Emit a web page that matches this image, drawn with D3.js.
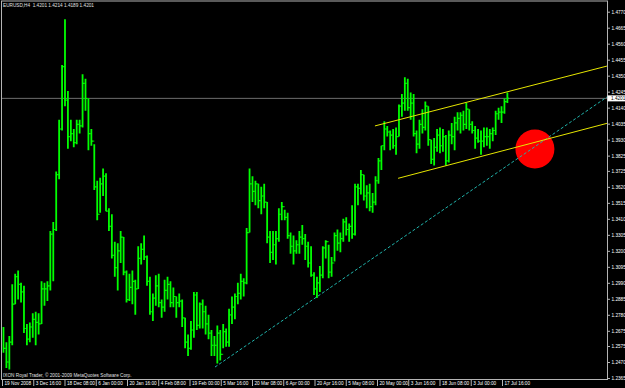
<!DOCTYPE html>
<html><head><meta charset="utf-8">
<script src="https://cdn.jsdelivr.net/npm/d3@7"></script>
<style>html,body{margin:0;padding:0;background:#000;overflow:hidden}</style>
</head><body>
<svg id="c" width="625" height="388"></svg>
<script>
// Daily EURUSD (H4 chart, 6 bars per day) 19 Nov 2008 .. 21 Jul 2009
const highs=[1.2700,1.2600,1.2640,1.2980,1.3050,1.3070,1.2990,1.2970,1.2720,1.2730,1.2790,1.2800,1.2790,1.3000,1.2990,1.3000,1.3330,1.3390,1.3720,1.4060,1.4420,1.4720,1.4250,1.4060,1.4000,1.4060,1.4060,1.4360,1.4330,1.4200,
1.4000,1.3900,1.3660,1.3680,1.3740,1.3710,1.3480,1.3440,1.3260,1.3250,1.3330,1.3290,1.3070,1.3050,1.3070,1.3010,1.3230,1.3250,1.3300,1.3170,1.3030,
1.2920,1.3040,1.3050,1.2880,1.3010,1.3030,1.3000,1.2960,1.2900,1.2920,1.2880,1.2760,1.2650,1.2740,1.2930,1.2930,1.2860,1.2880,1.2840,1.2780,
1.2680,1.2640,1.2710,1.2680,1.2720,1.2690,1.2820,1.2900,1.2920,1.2990,1.3050,1.3020,1.3350,1.3740,1.3690,1.3660,1.3640,1.3620,1.3640,1.3520,1.3330,1.3330,
1.3330,1.3480,1.3520,1.3470,1.3450,1.3320,1.3300,1.3270,1.3330,1.3370,1.3310,1.3260,1.3230,1.3060,1.3030,1.3100,1.3230,1.3270,1.3240,1.3160,1.3320,1.3340,
1.3320,1.3410,1.3420,1.3380,1.3500,1.3640,1.3640,1.3730,1.3700,1.3630,1.3640,1.3580,1.3690,1.3810,1.3890,1.4050,1.4020,1.3990,1.4000,1.4010,1.4160,
1.4230,1.4340,1.4330,1.4240,1.4230,1.3990,1.4060,1.4130,1.4180,1.4150,1.3930,1.3940,1.4000,1.4010,1.4000,1.3960,1.3990,1.4040,1.4080,1.4110,1.4110,1.4120,
1.4170,1.4130,1.4050,1.4020,1.4000,1.3990,1.4010,1.4010,1.4000,1.4010,1.4120,1.4140,1.4150,1.4200,1.4240];
const lows=[1.2530,1.2430,1.2420,1.2580,1.2850,1.2880,1.2860,1.2660,1.2580,1.2600,1.2630,1.2580,1.2650,1.2720,1.2840,1.2870,1.2940,1.3000,1.3330,1.3670,1.3990,1.4150,1.3870,1.3920,1.3880,1.3900,1.3970,1.4010,1.4120,1.3860,
1.3890,1.3600,1.3400,1.3450,1.3560,1.3460,1.3330,1.3150,1.3030,1.2940,1.3120,1.3040,1.2860,1.2870,1.2850,1.2780,1.2950,1.3110,1.3140,1.2970,1.2780,
1.2740,1.2840,1.2830,1.2760,1.2800,1.2880,1.2830,1.2830,1.2760,1.2830,1.2700,1.2560,1.2510,1.2550,1.2630,1.2680,1.2690,1.2690,1.2650,1.2620,
1.2510,1.2510,1.2460,1.2480,1.2560,1.2570,1.2570,1.2720,1.2750,1.2850,1.2880,1.2900,1.2980,1.3320,1.3520,1.3500,1.3480,1.3440,1.3480,1.3250,1.3120,1.3140,
1.3110,1.3260,1.3400,1.3400,1.3280,1.3180,1.3110,1.3180,1.3180,1.3240,1.3140,1.3090,1.3030,1.2910,1.2890,1.2930,1.3020,1.3150,1.3020,1.3030,1.3130,1.3200,
1.3190,1.3260,1.3300,1.3260,1.3280,1.3300,1.3500,1.3570,1.3530,1.3480,1.3460,1.3450,1.3500,1.3640,1.3730,1.3860,1.3950,1.3860,1.3870,1.3830,1.3950,
1.4080,1.4120,1.4120,1.4060,1.3950,1.3840,1.3870,1.3970,1.3990,1.3890,1.3770,1.3760,1.3850,1.3840,1.3850,1.3760,1.3780,1.3900,1.3860,1.3990,1.3970,1.3990,
1.4000,1.3990,1.3970,1.3870,1.3910,1.3830,1.3880,1.3890,1.3870,1.3920,1.3960,1.4060,1.4040,1.4100,1.4170];
const closes=[1.2560,1.2470,1.2600,1.2850,1.3030,1.2980,1.2930,1.2690,1.2620,1.2700,1.2750,1.2730,1.2720,1.2950,1.2950,1.2970,1.3310,1.3340,1.3700,1.4000,1.4410,1.4190,1.3950,1.3970,1.3910,1.4030,1.4020,1.4300,1.4200,1.3970,
1.3920,1.3620,1.3440,1.3640,1.3690,1.3460,1.3360,1.3170,1.3090,1.3200,1.3290,1.3060,1.2880,1.2960,1.3000,1.2950,1.3150,1.3210,1.3160,1.3000,1.2800,
1.2890,1.2970,1.2860,1.2830,1.2940,1.2980,1.2860,1.2900,1.2860,1.2870,1.2760,1.2600,1.2560,1.2680,1.2910,1.2710,1.2850,1.2800,1.2720,1.2660,
1.2580,1.2580,1.2660,1.2520,1.2670,1.2600,1.2780,1.2830,1.2900,1.2920,1.3000,1.2990,1.3320,1.3640,1.3590,1.3640,1.3530,1.3560,1.3520,1.3290,1.3190,1.3240,
1.3280,1.3440,1.3490,1.3420,1.3300,1.3230,1.3200,1.3240,1.3290,1.3280,1.3230,1.3120,1.3040,1.2950,1.2990,1.3040,1.3220,1.3260,1.3060,1.3120,1.3300,1.3250,
1.3280,1.3390,1.3340,1.3360,1.3310,1.3620,1.3610,1.3700,1.3560,1.3580,1.3490,1.3520,1.3660,1.3790,1.3890,1.4000,1.3980,1.3960,1.3890,1.3950,1.4150,
1.4170,1.4300,1.4140,1.4170,1.3970,1.3900,1.4030,1.4010,1.4150,1.3930,1.3800,1.3880,1.3960,1.3890,1.3950,1.3790,1.3960,1.3950,1.4040,1.4070,1.4090,1.4030,
1.4130,1.4030,1.3990,1.3940,1.3920,1.3920,1.3950,1.3950,1.3970,1.3990,1.4100,1.4110,1.4110,1.4180,1.4201];

const timeLabels=["19 Nov 2008","3 Dec 16:00","18 Dec 08:00","6 Jan 00:00","20 Jan 16:00","4 Feb 08:00","19 Feb 00:00","5 Mar 16:00","20 Mar 08:00","6 Apr 00:00","20 Apr 16:00","5 May 08:00","20 May 00:00","3 Jun 16:00","18 Jun 08:00","3 Jul 00:00","17 Jul 16:00"];
const timeTickDays=[0,10.667,21.333,32,42.667,53.333,64,74.667,85.333,96,106.667,117.333,128,138.667,149.333,160,170.667];
const priceTicks=[1.4770,1.4665,1.4560,1.4455,1.4350,1.4245,1.4140,1.4035,1.3930,1.3825,1.3725,1.3620,1.3515,1.3410,1.3305,1.3200,1.3095,1.2990,1.2885,1.2780,1.2675,1.2575,1.2470,1.2365];
const lastPrice=1.4201;
const titleText="EURUSD,H4  1.4201 1.4214 1.4189 1.4201";
const footerText="IXON Royal Trader, \u00A9 2001-2009 MetaQuotes Software Corp.";
// trend lines [day, price]
const upperChannel=[[127.3,1.4020],[206.5,1.4413]];
const lowerChannel=[[135.2,1.3676],[206.5,1.4037]];
const supportLine=[[72.7,1.2437],[206.5,1.4210]];
const marker=[181.9,1.3868];

const svg=d3.select("#c");
const W=625,H=388, L=2, R=607, T=1.5, B=379.5;
const x=d3.scaleLinear().domain([0,170.667]).range([2,502]);
const y=d3.scaleLinear().domain([1.2365,1.4770]).range([378,11.7]);
const font="'Liberation Sans', Arial, sans-serif";

svg.append("rect").attr("width",W).attr("height",H).attr("fill","#000");
svg.append("defs").append("clipPath").attr("id","pc").append("rect")
  .attr("x",L).attr("y",T).attr("width",R-L).attr("height",B-T);

const plot=svg.append("g").attr("clip-path","url(#pc)");

// current price line
plot.append("line").attr("x1",L).attr("x2",R).attr("y1",y(lastPrice)).attr("y2",y(lastPrice))
  .attr("stroke","#6e6e6e").attr("stroke-width",1);

// bars
const days=d3.range(highs.length);
const bars=plot.append("g");
bars.selectAll("line.op").data(days.slice(1)).join("line").attr("class","op")
  .attr("x1",i=>x(i+0.5)-1.6).attr("x2",i=>x(i+0.5))
  .attr("y1",i=>y(closes[i-1])).attr("y2",i=>y(closes[i-1]))
  .attr("stroke","#00b400").attr("stroke-width",1.2);
bars.selectAll("line.hl").data(days).join("line").attr("class","hl")
  .attr("x1",i=>x(i+0.5)).attr("x2",i=>x(i+0.5))
  .attr("y1",i=>y(highs[i])).attr("y2",i=>y(lows[i]))
  .attr("stroke","#00ff00").attr("stroke-width",1.8);
bars.selectAll("line.cl").data(days).join("line").attr("class","cl")
  .attr("x1",i=>x(i+0.5)).attr("x2",i=>x(i+0.5)+1.6)
  .attr("y1",i=>y(closes[i])).attr("y2",i=>y(closes[i]))
  .attr("stroke","#00ff00").attr("stroke-width",1.2);

// red marker
plot.append("circle").attr("cx",x(marker[0])).attr("cy",y(marker[1])).attr("r",19.5).attr("fill","#ff0000");

const ln=d3.line().x(d=>x(d[0])).y(d=>y(d[1]));
plot.append("path").attr("d",ln(supportLine)).attr("fill","none").attr("stroke","#20b2aa").attr("stroke-width",1).attr("stroke-dasharray","3,2");
plot.append("path").attr("d",ln(upperChannel)).attr("fill","none").attr("stroke","#e6e600").attr("stroke-width",1);
plot.append("path").attr("d",ln(lowerChannel)).attr("fill","none").attr("stroke","#e6e600").attr("stroke-width",1);

// frame
svg.append("rect").attr("x",L-0.5).attr("y",T-0.5).attr("width",R-L+1).attr("height",B-T+0.5)
  .attr("fill","none").attr("stroke","#b4b4b4").attr("stroke-width",1);

// price axis
const ya=svg.append("g").attr("transform",`translate(${R+0.5},0)`)
  .call(d3.axisRight(y).tickValues(priceTicks).tickSize(2.5).tickPadding(1.5).tickFormat(d3.format(".4f")));
ya.select(".domain").remove();
ya.selectAll("line").attr("stroke","#b4b4b4");
ya.selectAll("text").attr("fill","#ffffff").style("font-family",font).style("font-size","4.7px");

// last price box
svg.append("rect").attr("x",R+0.5).attr("y",y(lastPrice)-3).attr("width",W-R).attr("height",6).attr("fill","#ffffff");
svg.append("text").attr("x",R+4).attr("y",y(lastPrice)).attr("dy","0.35em").text(d3.format(".4f")(lastPrice))
  .attr("fill","#000").style("font-family",font).style("font-size","4.7px");

// time axis
const xa=svg.append("g").attr("transform",`translate(0,${B})`)
  .call(d3.axisBottom(x).tickValues(timeTickDays).tickSize(6.5).tickFormat((d,i)=>timeLabels[i]));
xa.select(".domain").remove();
xa.selectAll("line").attr("stroke","#b4b4b4");
xa.selectAll("text").attr("fill","#ffffff").attr("text-anchor","start").attr("x",2).attr("y",2.6)
  .style("font-family",font).style("font-size","4.7px");

// texts
svg.append("text").attr("x",3).attr("y",7.3).text(titleText).attr("fill","#e0e0e0").style("font-family",font).style("font-size","4.7px").attr("xml:space","preserve");
svg.append("text").attr("x",3).attr("y",376.5).text(footerText).attr("fill","#e0e0e0").style("font-family",font).style("font-size","4.7px");
</script>
</body></html>
